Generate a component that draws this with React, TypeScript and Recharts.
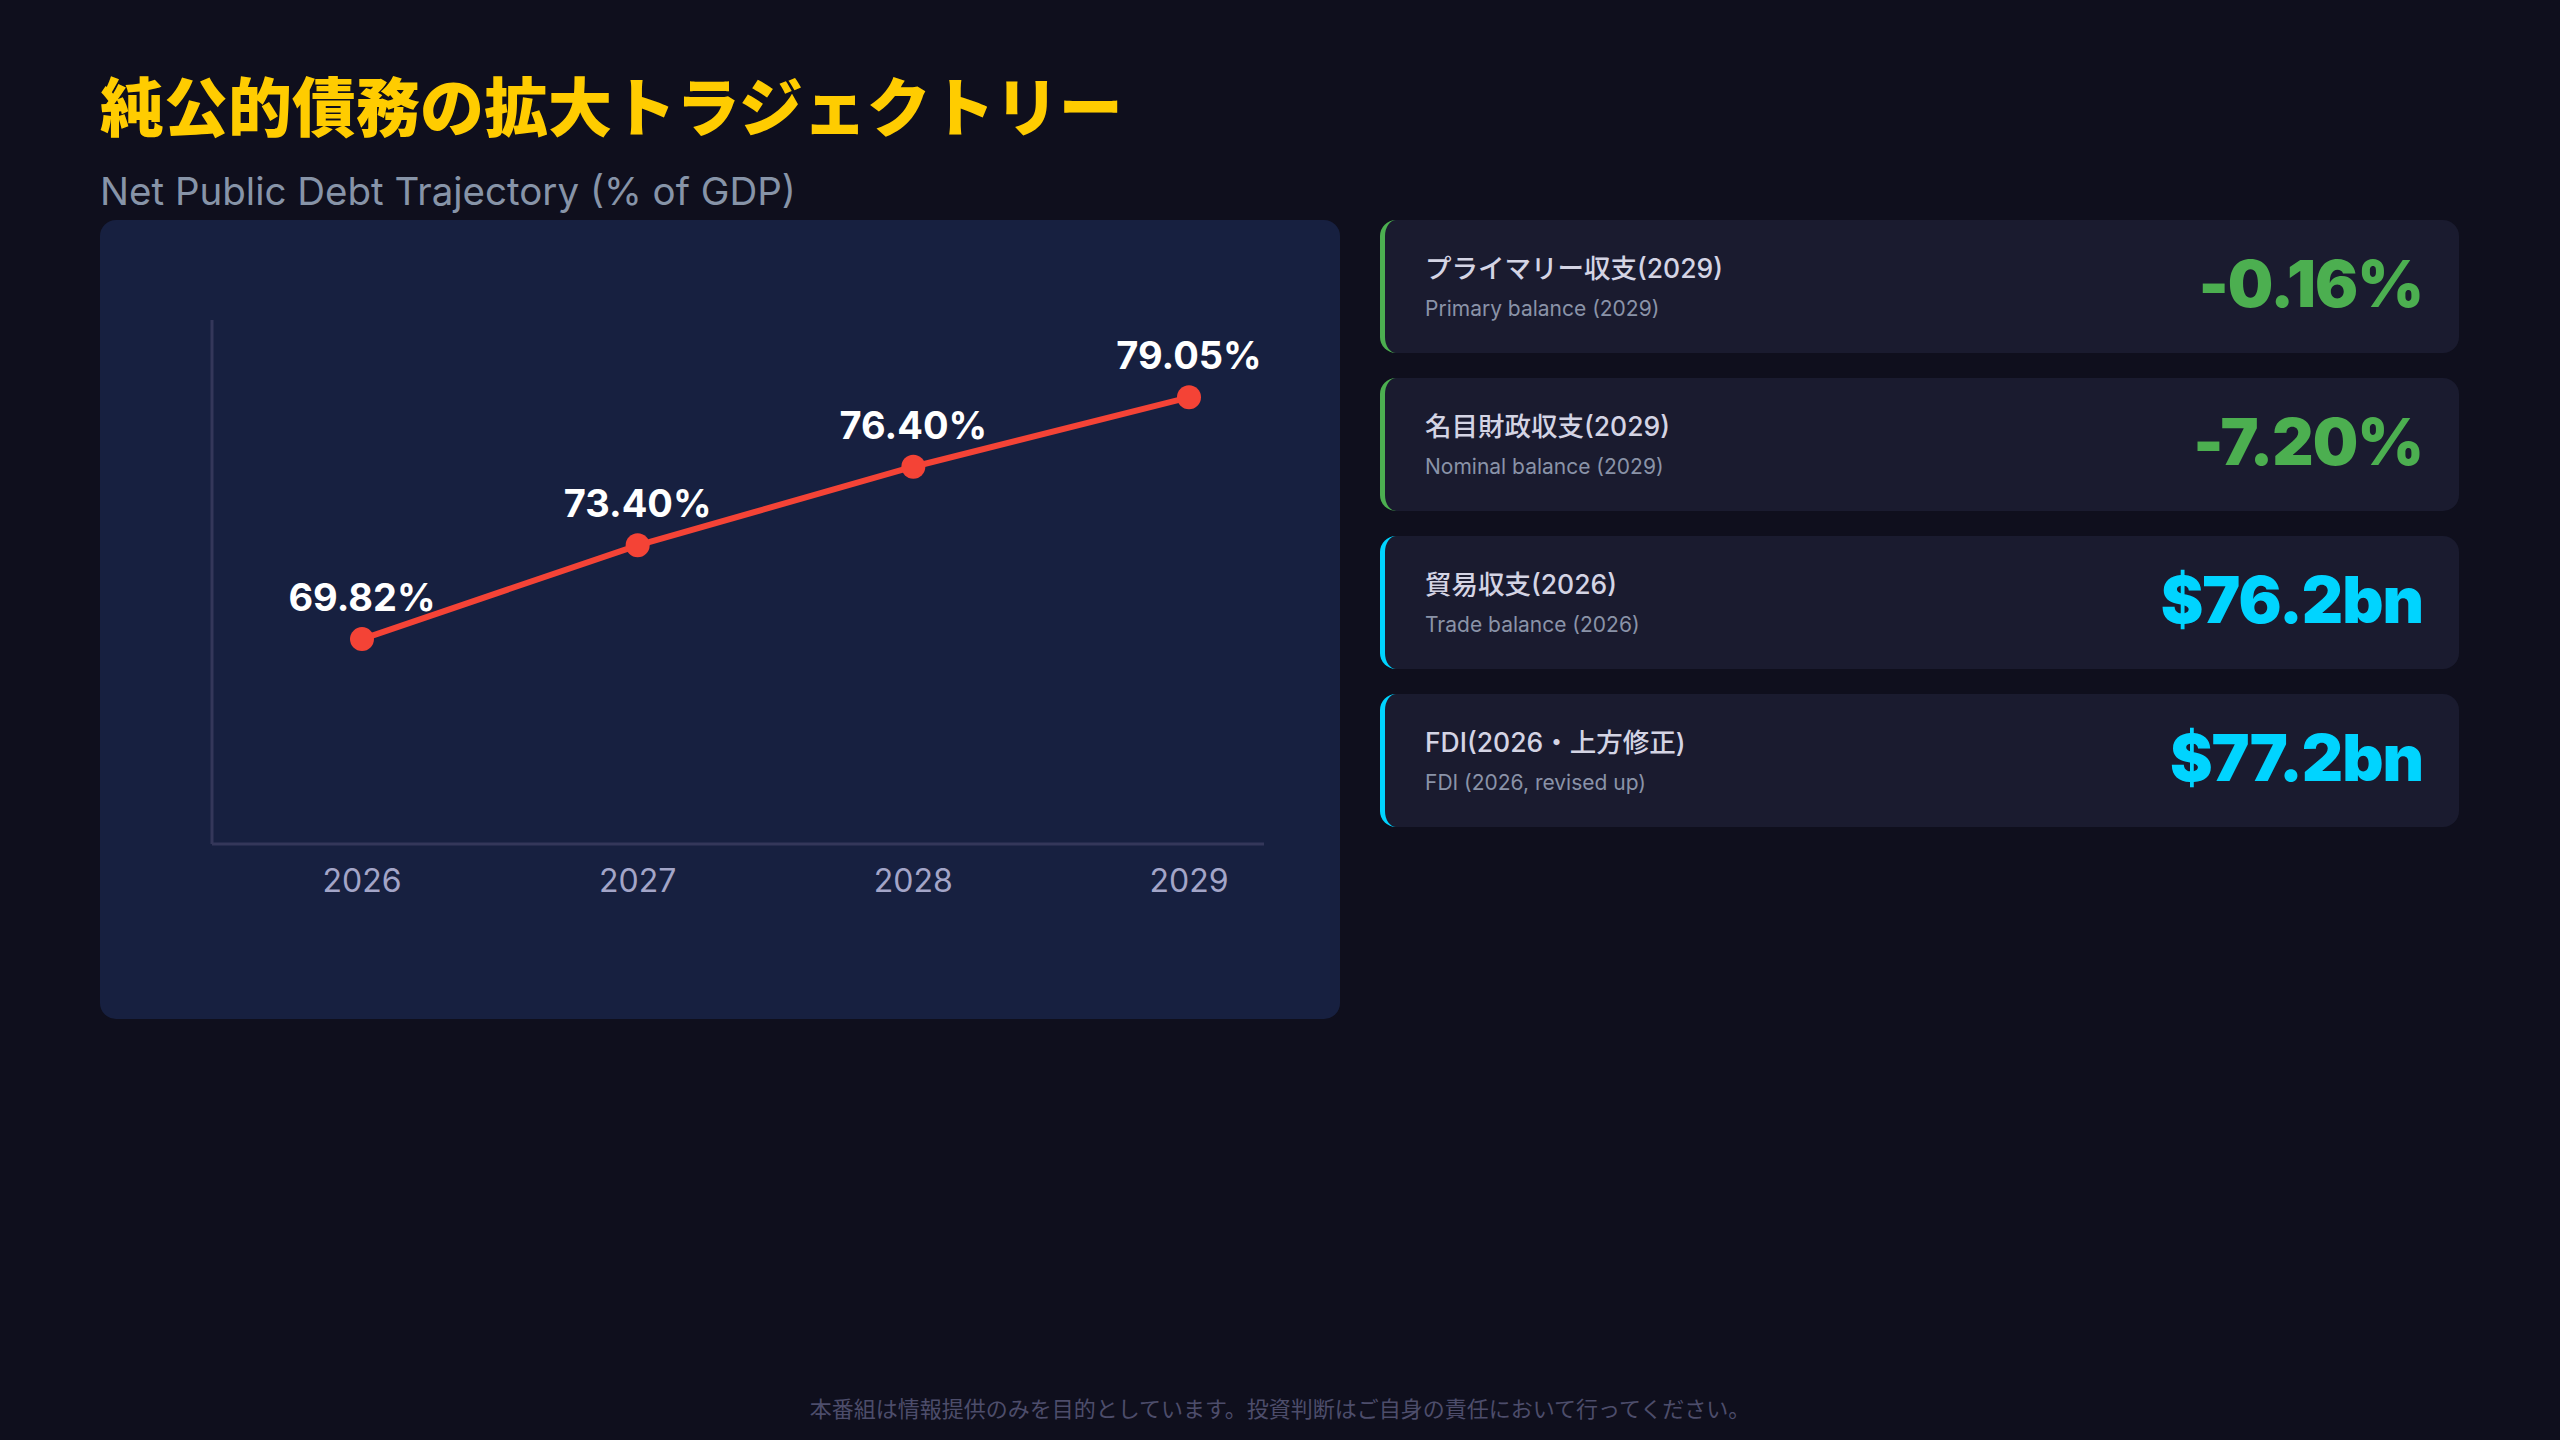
import React from 'react';
import { LineChart, Line, XAxis, YAxis, LabelList } from 'recharts';

const years = ['2026', '2027', '2028', '2029'];
const debtRatio = [69.82, 73.4, 76.4, 79.05];

const statLabels = ['プライマリー収支(2029)', '名目財政収支(2029)', '貿易収支(2026)', 'FDI(2026・上方修正)'];
const statSubLabels = ['Primary balance (2029)', 'Nominal balance (2029)', 'Trade balance (2026)', 'FDI (2026, revised up)'];
const statValues = ['-0.16%', '-7.20%', '$76.2bn', '$77.2bn'];
const statColors = ['#4caf50', '#4caf50', '#00d4ff', '#00d4ff'];

const chartData = years.map((y, i) => ({ year: y, value: debtRatio[i] }));

const FONT = 'Inter, "Noto Sans CJK JP", sans-serif';

const App: React.FC = () => {
  return (
    <div
      style={{
        position: 'absolute',
        left: 0,
        top: 0,
        width: 2560,
        height: 1440,
        background: '#0f0f1d',
        fontFamily: FONT,
        overflow: 'hidden',
      }}
    >
      <div
        style={{
          position: 'absolute',
          left: 100,
          top: 63,
          fontSize: 64,
          lineHeight: '80px',
          fontWeight: 900,
          color: '#ffcc00',
          fontFamily: '"Noto Sans CJK JP", sans-serif',
        }}
      >
        純公的債務の拡大トラジェクトリー
      </div>
      <div
        style={{
          position: 'absolute',
          left: 100,
          top: 168,
          fontSize: 38.5,
          lineHeight: '46px',
          color: '#8794a8',
        }}
      >
        Net Public Debt Trajectory (% of GDP)
      </div>

      {/* chart card */}
      <div
        style={{
          position: 'absolute',
          left: 100,
          top: 220,
          width: 1240,
          height: 799,
          background: '#172040',
          borderRadius: 16,
        }}
      >
        <LineChart
          width={1240}
          height={799}
          data={chartData}
          margin={{ top: 100, right: 76, left: 110, bottom: 115 }}
        >
          <XAxis
            dataKey="year"
            height={60}
            padding={{ left: 150, right: 75 }}
            axisLine={{ stroke: '#34375a', strokeWidth: 3 }}
            tickLine={false}
            tickMargin={19}
            tick={{ fill: '#a3a5c8', fontSize: 32, fontFamily: FONT }}
          />
          <YAxis
            width={2}
            domain={[62, 82]}
            tick={false}
            tickLine={false}
            axisLine={{ stroke: '#34375a', strokeWidth: 3 }}
          />
          <Line
            type="linear"
            dataKey="value"
            stroke="#f44336"
            strokeWidth={6}
            dot={{ r: 12, fill: '#f44336', stroke: '#f44336', strokeWidth: 0 }}
            isAnimationActive={false}
          >
            <LabelList
              dataKey="value"
              position="top"
              offset={28}
              formatter={(v: any) => `${Number(v).toFixed(2)}%`}
              style={{ fill: '#ffffff', fontSize: 38, fontWeight: 700, fontFamily: FONT }}
            />
          </Line>
        </LineChart>
      </div>

      {/* stat cards */}
      {statLabels.map((label, i) => (
        <div
          key={label}
          style={{
            position: 'absolute',
            left: 1380,
            top: 220 + i * 158,
            width: 1079,
            height: 133,
            background: '#1a1b2f',
            borderRadius: 16,
            borderLeft: `5px solid ${statColors[i]}`,
            boxSizing: 'border-box',
          }}
        >
          <div
            style={{
              position: 'absolute',
              left: 40,
              top: 30,
              fontSize: 26.5,
              lineHeight: '36px',
              color: '#d4d4e4',
              fontWeight: 500,
            }}
          >
            {label}
          </div>
          <div
            style={{
              position: 'absolute',
              left: 40,
              top: 75,
              fontSize: 21,
              lineHeight: '28px',
              color: '#8a93a8',
            }}
          >
            {statSubLabels[i]}
          </div>
          <div
            style={{
              position: 'absolute',
              right: 36,
              top: 22,
              fontSize: 64,
              lineHeight: '84px',
              fontWeight: 900,
              color: statColors[i],
              letterSpacing: -1,
            }}
          >
            {statValues[i]}
          </div>
        </div>
      ))}

      <div
        style={{
          position: 'absolute',
          left: 0,
          width: 2560,
          top: 1393,
          textAlign: 'center',
          fontSize: 22,
          lineHeight: '28px',
          color: '#4d4d6b',
          fontFamily: '"Noto Sans CJK JP", sans-serif',
        }}
      >
        本番組は情報提供のみを目的としています。投資判断はご自身の責任において行ってください。
      </div>
    </div>
  );
};

export default App;
